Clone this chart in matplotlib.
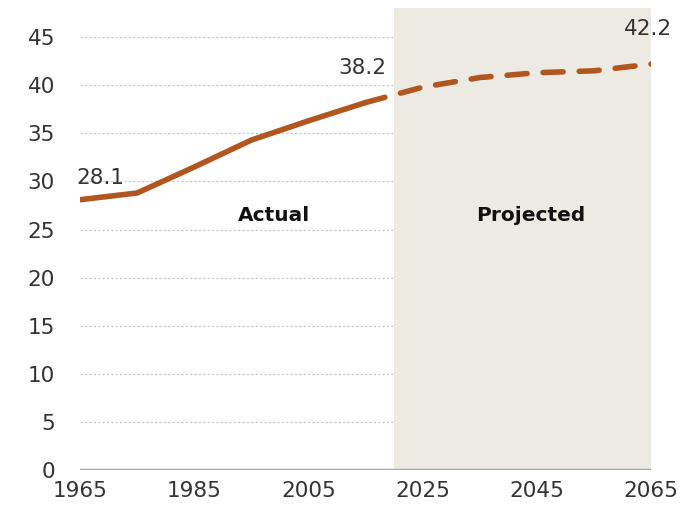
import matplotlib
matplotlib.use("Agg")
import matplotlib.pyplot as plt

plt.rcParams['font.family'] = ['DejaVu Sans']

actual_years = [1965, 1975, 1985, 1995, 2005, 2015]
actual_vals = [28.1, 28.8, 31.5, 34.3, 36.3, 38.2]
proj_years = [2015, 2025, 2035, 2045, 2055, 2065]
proj_vals = [38.2, 39.8, 40.8, 41.3, 41.5, 42.2]
y_ticks = [0, 5, 10, 15, 20, 25, 30, 35, 40, 45]
x_ticks = [1965, 1985, 2005, 2025, 2045, 2065]

line_color = '#B0561E'
text_color = '#333333'

fig = plt.figure(figsize=(6.84, 5.16), dpi=100)
ax = fig.add_axes([0.117, 0.089, 0.835, 0.895])
ax.set_xlim(1965, 2065)
ax.set_ylim(0, 48)

for yv in y_ticks[1:]:
    ax.axhline(yv, color='#cccccc', lw=0.9, ls=(0, (2, 1.5)), zorder=1)
ax.axvspan(2020, 2065, color='#EDEAE3', zorder=2, lw=0)
ax.axhline(0, color='#a8a8a8', lw=2.5, zorder=3)

ax.plot(actual_years, actual_vals, color=line_color, lw=4,
        solid_capstyle='round', solid_joinstyle='round', zorder=5)
ax.plot(proj_years, proj_vals, color=line_color, lw=4,
        ls=(0, (3.6, 2.9)), dash_capstyle='round', zorder=5)

ax.text(1965 - 0.6, 29.3, '28.1', fontsize=15.5, color=text_color,
        ha='left', va='bottom')
ax.text(2014.5, 40.7, '38.2', fontsize=15.5, color=text_color,
        ha='center', va='bottom')
ax.text(2064.5, 44.8, '42.2', fontsize=15.5, color=text_color,
        ha='center', va='bottom', clip_on=False)

ax.text(1999, 26.5, 'Actual', fontsize=14.5, fontweight='bold',
        color='#111111', ha='center', va='center', zorder=6)
ax.text(2044, 26.5, 'Projected', fontsize=14.5, fontweight='bold',
        color='#111111', ha='center', va='center', zorder=6)

ax.set_yticks(y_ticks)
ax.set_xticks(x_ticks)
ax.set_yticklabels([str(v) for v in y_ticks])
ax.set_xticklabels([str(v) for v in x_ticks])
ax.tick_params(axis='both', length=0, labelsize=15.5, labelcolor=text_color)
ax.tick_params(axis='y', pad=18)
ax.tick_params(axis='x', pad=8)
for s in ax.spines.values():
    s.set_visible(False)

fig.savefig('out.png', dpi=100)
